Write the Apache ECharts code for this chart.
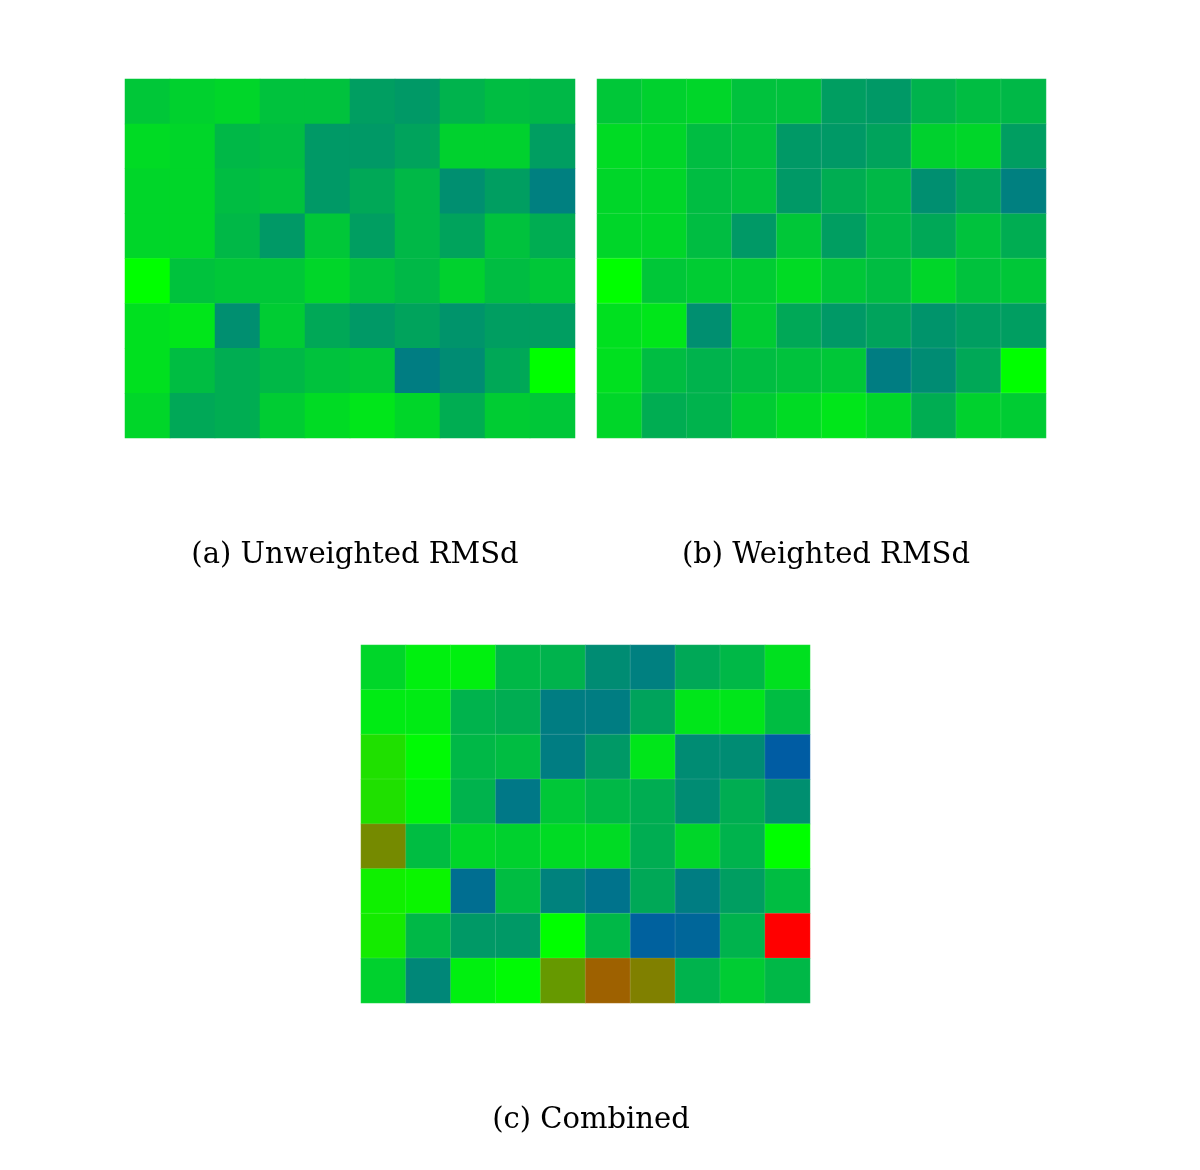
<!DOCTYPE html>
<html>
<head>
<meta charset="utf-8">
<script src="https://cdn.jsdelivr.net/npm/echarts@6/dist/echarts.min.js"></script>
<style>html,body{margin:0;padding:0;background:#fff;}#c{width:1200px;height:1170px;}</style>
</head>
<body>
<div id="c"></div>
<script>
const columns = ['1','2','3','4','5','6','7','8','9','10'];
const rows = ['1','2','3','4','5','6','7','8'];
const captions = ['(a) Unweighted RMSd', '(b) Weighted RMSd', '(c) Combined'];

const unweighted = [
  [0.39, 0.41, 0.42, 0.38, 0.38, 0.31, 0.30, 0.35, 0.37, 0.36],
  [0.43, 0.42, 0.36, 0.37, 0.30, 0.30, 0.32, 0.41, 0.41, 0.31],
  [0.42, 0.42, 0.37, 0.38, 0.30, 0.33, 0.36, 0.28, 0.31, 0.25],
  [0.42, 0.42, 0.36, 0.30, 0.39, 0.31, 0.36, 0.32, 0.38, 0.34],
  [0.50, 0.38, 0.39, 0.39, 0.42, 0.38, 0.36, 0.41, 0.37, 0.39],
  [0.44, 0.45, 0.28, 0.40, 0.33, 0.30, 0.32, 0.29, 0.31, 0.31],
  [0.44, 0.37, 0.34, 0.36, 0.38, 0.39, 0.245, 0.275, 0.33, 0.50],
  [0.42, 0.33, 0.34, 0.40, 0.43, 0.45, 0.42, 0.34, 0.40, 0.39]
];
const weighted = [
  [0.39, 0.41, 0.42, 0.38, 0.38, 0.31, 0.30, 0.35, 0.37, 0.36],
  [0.43, 0.42, 0.37, 0.38, 0.30, 0.30, 0.32, 0.41, 0.42, 0.31],
  [0.42, 0.42, 0.37, 0.38, 0.30, 0.34, 0.36, 0.28, 0.32, 0.25],
  [0.42, 0.42, 0.37, 0.30, 0.39, 0.31, 0.36, 0.33, 0.38, 0.34],
  [0.50, 0.39, 0.40, 0.40, 0.43, 0.39, 0.37, 0.42, 0.38, 0.39],
  [0.44, 0.45, 0.28, 0.40, 0.33, 0.30, 0.32, 0.29, 0.31, 0.31],
  [0.44, 0.37, 0.35, 0.37, 0.38, 0.39, 0.245, 0.275, 0.33, 0.50],
  [0.42, 0.34, 0.35, 0.40, 0.43, 0.45, 0.42, 0.34, 0.41, 0.40]
];
const combined = [
  [0.42, 0.47, 0.47, 0.36, 0.35, 0.275, 0.25, 0.33, 0.36, 0.44],
  [0.46, 0.46, 0.35, 0.34, 0.245, 0.245, 0.32, 0.45, 0.45, 0.37],
  [0.56, 0.49, 0.36, 0.37, 0.245, 0.30, 0.45, 0.275, 0.275, 0.18],
  [0.56, 0.48, 0.35, 0.235, 0.39, 0.36, 0.34, 0.275, 0.34, 0.28],
  [0.73, 0.37, 0.42, 0.41, 0.43, 0.43, 0.34, 0.42, 0.35, 0.50],
  [0.53, 0.52, 0.215, 0.37, 0.255, 0.225, 0.33, 0.245, 0.31, 0.37],
  [0.54, 0.36, 0.30, 0.30, 0.50, 0.36, 0.19, 0.20, 0.35, 1.00],
  [0.41, 0.265, 0.47, 0.49, 0.70, 0.81, 0.75, 0.35, 0.40, 0.36]
];

function toCells(m) {
  const out = [];
  m.forEach((r, ri) => r.forEach((v, ci) => out.push([ci, ri, v])));
  return out;
}

const grids = [
  {left: 125, top: 79, width: 450, height: 359},
  {left: 597, top: 79, width: 449, height: 359},
  {left: 361, top: 645, width: 449, height: 358}
];
const mats = [unweighted, weighted, combined];
const borders = [0, 1, 1];

const chart = echarts.init(document.getElementById('c'));
chart.setOption({
  backgroundColor: '#fff',
  animation: false,
  grid: grids,
  xAxis: grids.map((g, i) => ({type: 'category', data: columns, gridIndex: i, show: false})),
  yAxis: grids.map((g, i) => ({type: 'category', data: rows, gridIndex: i, show: false, inverse: true})),
  visualMap: {
    show: false, min: 0, max: 1, seriesIndex: [0, 1, 2],
    inRange: {color: ['#0000ff', '#00ff00', '#ff0000']}
  },
  title: [
    {text: captions[0], left: 350, top: 536, textAlign: 'center'},
    {text: captions[1], left: 821, top: 536, textAlign: 'center'},
    {text: captions[2], left: 586, top: 1101, textAlign: 'center'}
  ].map(t => Object.assign(t, {textStyle: {fontFamily: 'DejaVu Serif', fontWeight: 'normal', fontSize: 29, color: '#000'}})),
  series: mats.map((m, i) => ({
    type: 'heatmap', xAxisIndex: i, yAxisIndex: i, data: toCells(m),
    itemStyle: {borderWidth: borders[i], borderColor: 'rgba(255,255,255,0.12)'},
    emphasis: {disabled: true}
  }))
});
</script>
</body>
</html>
